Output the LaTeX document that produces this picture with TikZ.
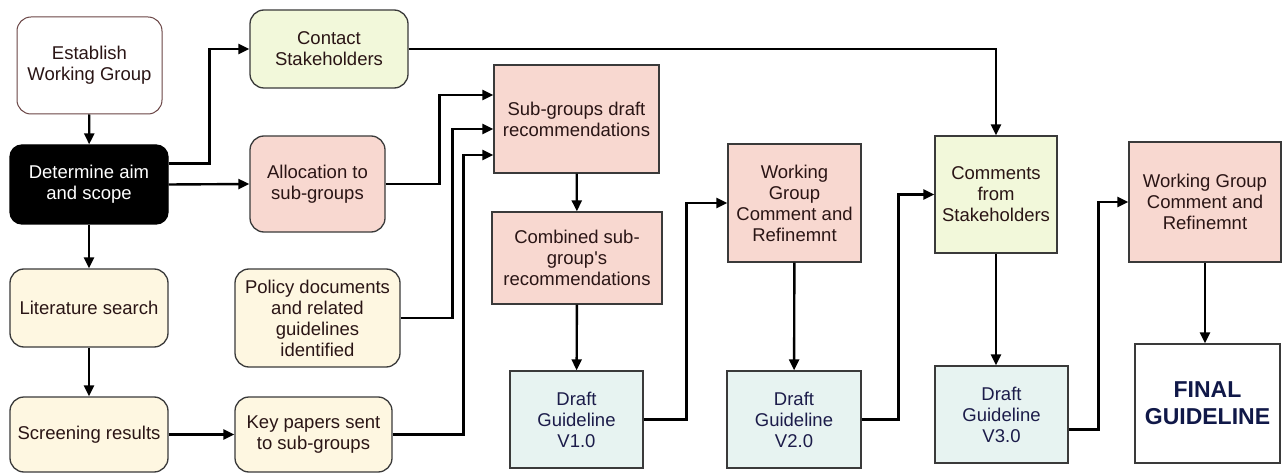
\documentclass[tikz,border=0pt]{standalone}
\usepackage{fontspec}
\setmainfont{Liberation Sans}
\usetikzlibrary{arrows.meta,calc}
\definecolor{pinkf}{HTML}{F8D8D0}
\definecolor{creamf}{HTML}{FEF7E1}
\definecolor{limef}{HTML}{F2F8DA}
\definecolor{cyanf}{HTML}{E7F3F1}
\definecolor{bordc}{HTML}{3A3A3A}
\definecolor{brownc}{HTML}{6A4545}
\definecolor{txtc}{HTML}{2A1515}
\definecolor{navyc}{HTML}{1C1C4A}
\definecolor{finalc}{HTML}{101848}
\begin{document}
\begin{tikzpicture}[x=1pt,y=-1pt,
  box/.style={draw=bordc, line width=1.3pt, align=center, inner sep=1pt,
    font=\fontsize{18.5}{21}\selectfont, text=txtc},
  rbox/.style={box, rounded corners=14pt},
  arr/.style={draw=black, line width=2.4pt, -{Triangle[length=11pt,width=10pt]}}
]
\useasboundingbox (0,0) rectangle (1282,473);
\fill[white] (0,0) rectangle (1282,473);

% left column
\node[rbox, fill=white, draw=brownc, line width=1pt, minimum width=145pt, minimum height=97pt] (est) at (89.5,65.5) {Establish\\Working Group};
\node[rbox, fill=black, draw=black, text=white, rounded corners=12pt, minimum width=158pt, minimum height=79pt] (det) at (89,184.5) {Determine aim\\and scope};
\node[rbox, fill=creamf, minimum width=158pt, minimum height=78pt] (lit) at (89,308) {Literature search};
\node[rbox, fill=creamf, minimum width=158pt, minimum height=75pt] (scr) at (89,434.5) {Screening results};

% second column
\node[rbox, fill=limef, minimum width=158pt, minimum height=78pt] (con) at (329,49) {Contact\\Stakeholders};
\node[rbox, fill=pinkf, minimum width=135pt, minimum height=96pt] (alo) at (317.5,184) {Allocation to\\sub-groups};
\node[rbox, fill=creamf, minimum width=165pt, minimum height=98pt] (pol) at (317.5,318) {Policy documents\\and related\\guidelines\\identified};
\node[rbox, fill=creamf, minimum width=157pt, minimum height=75pt] (key) at (313.5,434.5) {Key papers sent\\to sub-groups};

% third column
\node[box, fill=pinkf, minimum width=165pt, minimum height=108pt] (sub) at (576.5,119) {Sub-groups draft\\recommendations};
\node[box, fill=pinkf, minimum width=170pt, minimum height=92pt] (cmb) at (577,258) {Combined sub-\\group\textquotesingle s\\recommendations};
\node[box, fill=cyanf, text=navyc, minimum width=133pt, minimum height=97pt] (v1) at (576.5,419.5) {Draft\\Guideline\\V1.0};

% fourth column
\node[box, fill=pinkf, minimum width=133pt, minimum height=118pt] (wg1) at (794.5,203) {Working\\Group\\Comment and\\Refinemnt};
\node[box, fill=cyanf, text=navyc, minimum width=134pt, minimum height=97pt] (v2) at (794,419.5) {Draft\\Guideline\\V2.0};

% fifth column
\node[box, fill=limef, minimum width=122pt, minimum height=117pt] (cmt) at (996,194.5) {Comments\\from\\Stakeholders};
\node[box, fill=cyanf, text=navyc, minimum width=133pt, minimum height=97pt] (v3) at (1001.5,414.5) {Draft\\Guideline\\V3.0};

% sixth column
\node[box, fill=pinkf, minimum width=152pt, minimum height=120pt] (wg2) at (1205,202) {Working Group\\Comment and\\Refinemnt};
\node[box, fill=white, text=finalc, minimum width=145pt, minimum height=119pt,
  font=\fontsize{23}{27}\selectfont\bfseries] (fin) at (1207.5,403.5) {FINAL\\GUIDELINE};

% connectors
\draw[arr] (est) -- (det);
\draw[arr] (det) -- (lit);
\draw[arr] (lit) -- (scr);
\draw[arr] (scr) -- (key);
\draw[arr] ([yshift=21pt]det.east) -- ++(41pt,0pt) |- (con.west);
\draw[arr] (det.east) -- (alo.west);
\draw[arr] (alo.east) -- ++(54pt,0pt) |- ([yshift=24pt]sub.west);
\draw[arr] (pol.east) -- ++(52pt,0pt) |- ([yshift=-10pt]sub.west);
\draw[arr] (key.east) -- ++(71pt,0pt) |- ([yshift=-36pt]sub.west);
\draw[arr] (con.east) -| (cmt.north);
\draw[arr] (sub) -- (cmb);
\draw[arr] (cmb) -- (v1);
\draw[arr] (v1.east) -- ++(43pt,0pt) |- (wg1.west);
\draw[arr] (wg1) -- (v2);
\draw[arr] (v2.east) -- ++(37pt,0pt) |- (cmt.west);
\draw[arr] (cmt.south) -- (cmt.south |- v3.north);
\draw[arr] ([yshift=-15pt]v3.east) -- ++(30pt,0pt) |- (wg2.west);
\draw[arr] (wg2.south) -- (wg2.south |- fin.north);
\end{tikzpicture}
\end{document}
